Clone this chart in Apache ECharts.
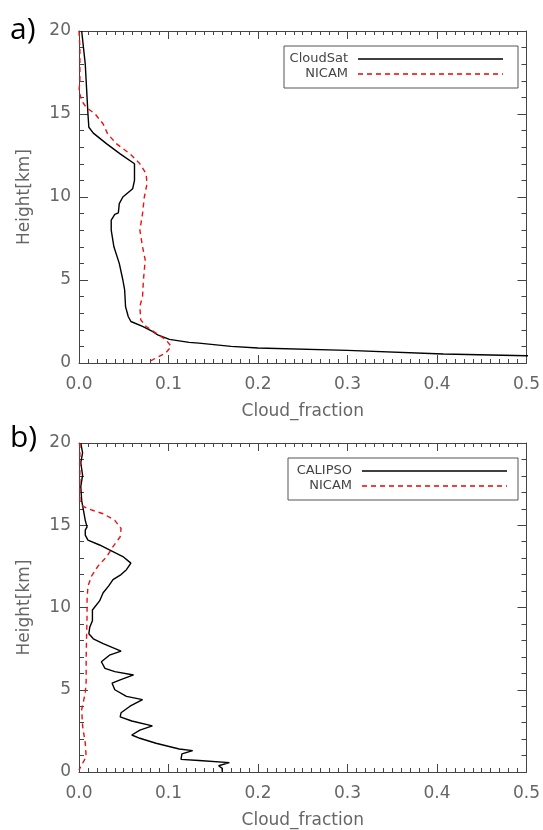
<!DOCTYPE html>
<html>
<head>
    <meta charset="utf-8">
    <title>Cloud fraction profiles</title>
    <script src="https://cdn.jsdelivr.net/npm/echarts@6/dist/echarts.min.js"></script>
    <style>
        html, body { margin: 0; padding: 0; background: #fff; }
        #chart { width: 543px; height: 830px; }
    </style>
</head>
<body>
<div id="chart"></div>
<script type="text/javascript">
// x axis ticks / labels
var xTicks = ['0.0', '0.1', '0.2', '0.3', '0.4', '0.5'];
var yTicks = ['0', '5', '10', '15', '20'];

// panel a) CloudSat
var cloudsatH = [20, 19, 18, 17, 16, 15, 14.2, 13.85, 13.2, 12.6, 12.0, 11.0, 10.5, 10.0, 9.6, 9.05, 8.95, 8.6, 8.0, 7.0, 6.0, 5.0, 4.4, 3.4, 2.8, 2.5, 2.2, 1.9, 1.7, 1.42, 1.24, 1.2, 1.0, 0.9, 0.76, 0.54, 0.44, 0.3];
var cloudsatF = [0.003, 0.005, 0.007, 0.008, 0.009, 0.010, 0.011, 0.016, 0.031, 0.046, 0.062, 0.062, 0.060, 0.049, 0.045, 0.044, 0.040, 0.036, 0.036, 0.039, 0.045, 0.049, 0.051, 0.052, 0.055, 0.058, 0.071, 0.082, 0.088, 0.101, 0.123, 0.134, 0.17, 0.2, 0.30, 0.407, 0.5, 0.62];
// panel a) NICAM
var nicamAH = [20, 19, 18, 17, 16.4, 15.8, 15.4, 15.0, 14.4, 13.8, 13.2, 12.6, 12.0, 11.4, 10.8, 10.0, 9.0, 8.0, 7.0, 6.2, 5.6, 5.0, 4.0, 3.4, 2.6, 2.2, 1.8, 1.4, 1.0, 0.6, 0.3, 0.1];
var nicamAF = [0.0, 0.001, 0.001, 0.001, 0.0, 0.003, 0.008, 0.018, 0.027, 0.032, 0.042, 0.057, 0.068, 0.075, 0.076, 0.073, 0.071, 0.068, 0.071, 0.074, 0.073, 0.072, 0.071, 0.068, 0.069, 0.075, 0.086, 0.097, 0.103, 0.097, 0.086, 0.079];

// panel b) CALIPSO
var calipsoH = [20, 19.4, 18.8, 18.05, 17.35, 16.5, 15.9, 15.3, 14.9, 14.7, 14.4, 14.1, 13.8, 13.5, 13.1, 12.7, 12.3, 12.0, 11.7, 11.3, 10.9, 10.4, 9.85, 9.2, 8.8, 8.4, 8.1, 7.8, 7.35, 7.1, 6.7, 6.3, 6.1, 5.9, 5.6, 5.4, 5.0, 4.6, 4.4, 4.0, 3.6, 3.35, 3.1, 2.8, 2.55, 2.25, 2.05, 1.75, 1.4, 1.3, 1.1, 0.77, 0.7, 0.57, 0.38, 0.22, 0.02];
var calipsoF = [0.002, 0.004, 0.002, 0.004, 0.002, 0.003, 0.005, 0.007, 0.009, 0.007, 0.007, 0.010, 0.023, 0.034, 0.049, 0.058, 0.053, 0.047, 0.038, 0.033, 0.027, 0.023, 0.015, 0.015, 0.012, 0.011, 0.016, 0.027, 0.047, 0.034, 0.025, 0.029, 0.040, 0.061, 0.046, 0.037, 0.040, 0.053, 0.071, 0.057, 0.047, 0.046, 0.059, 0.082, 0.068, 0.059, 0.068, 0.086, 0.112, 0.127, 0.115, 0.114, 0.134, 0.168, 0.156, 0.160, 0.160];
// panel b) NICAM
var nicamBH = [20, 18, 16.5, 16.2, 16.0, 15.7, 15.3, 14.8, 14.3, 13.7, 13.1, 12.5, 11.9, 11.3, 10.45, 9.5, 7.0, 5.5, 4.8, 3.8, 2.8, 1.75, 0.93, 0.53, 0.12];
var nicamBF = [0.001, 0.001, 0.001, 0.003, 0.010, 0.027, 0.040, 0.047, 0.046, 0.038, 0.031, 0.021, 0.014, 0.010, 0.009, 0.009, 0.008, 0.008, 0.007, 0.003, 0.004, 0.007, 0.008, 0.004, 0.0];

function pairs(f, h) {
    var out = [];
    for (var i = 0; i < f.length; i++) out.push([f[i], h[i]]);
    return out;
}

var labelFont = { fontFamily: 'DejaVu Sans', fontSize: 17, color: '#666' };
var axisLine = { onZero: false, lineStyle: { color: '#444', width: 1 } };

function xAxisFor(gi, top) {
    return {
        type: 'value', gridIndex: gi, min: 0, max: 0.5, interval: 0.1,
        position: top ? 'top' : 'bottom',
        name: top ? '' : 'Cloud_fraction',
        nameLocation: 'middle', nameGap: 40,
        nameTextStyle: labelFont,
        axisLine: axisLine,
        axisTick: { inside: true, length: 8, lineStyle: { color: '#444' } },
        minorTick: { show: true, splitNumber: 10, length: 4, lineStyle: { color: '#444' } },
        axisLabel: top ? { show: false } : Object.assign({ margin: 13, formatter: function (v) { return xTicks[Math.round(v * 10)]; } }, labelFont),
        splitLine: { show: false }
    };
}
function yAxisFor(gi, right) {
    return {
        type: 'value', gridIndex: gi, min: 0, max: 20, interval: 5,
        position: right ? 'right' : 'left',
        name: right ? '' : 'Height[km]',
        nameLocation: 'middle', nameGap: 46,
        nameTextStyle: labelFont,
        axisLine: axisLine,
        axisTick: { inside: true, length: 9, lineStyle: { color: '#444' } },
        minorTick: { show: true, splitNumber: 5, length: 5, lineStyle: { color: '#444' } },
        axisLabel: right ? { show: false } : Object.assign({ margin: 8, formatter: function (v) { return yTicks[v / 5]; } }, labelFont),
        splitLine: { show: false }
    };
}

function lineSeries(name, xi, yi, data, color, dashed) {
    return {
        name: name, type: 'line', xAxisIndex: xi, yAxisIndex: yi,
        data: data, showSymbol: false, clip: true, animation: false,
        lineStyle: { color: color, width: 1.4, type: dashed ? [5, 4] : 'solid' }
    };
}

function legendBox(x, y, w, h, name1) {
    return [
        { type: 'rect', shape: { x: x, y: y, width: w, height: h }, style: { fill: '#fff', stroke: '#555', lineWidth: 1 } },
        { type: 'text', x: x + 64, y: y + 13, style: { text: name1, align: 'right', verticalAlign: 'middle', fontFamily: 'DejaVu Sans', fontSize: 13, fill: '#444' } },
        { type: 'text', x: x + 64, y: y + 28, style: { text: 'NICAM', align: 'right', verticalAlign: 'middle', fontFamily: 'DejaVu Sans', fontSize: 13, fill: '#444' } },
        { type: 'line', shape: { x1: x + 74, y1: y + 13, x2: x + 219, y2: y + 13 }, style: { stroke: '#000', lineWidth: 1.4 } },
        { type: 'line', shape: { x1: x + 74, y1: y + 28, x2: x + 219, y2: y + 28 }, style: { stroke: '#e00', lineWidth: 1.4, lineDash: [5, 4] } }
    ];
}

var myChart = echarts.init(document.getElementById('chart'));
myChart.setOption({
    animation: false,
    grid: [
        { left: 79, top: 31, width: 449, height: 332 },
        { left: 79, top: 443, width: 449, height: 329 }
    ],
    xAxis: [xAxisFor(0, false), xAxisFor(0, true), xAxisFor(1, false), xAxisFor(1, true)],
    yAxis: [yAxisFor(0, false), yAxisFor(0, true), yAxisFor(1, false), yAxisFor(1, true)],
    series: [
        lineSeries('CloudSat', 0, 0, pairs(cloudsatF, cloudsatH), '#000', false),
        lineSeries('NICAM', 0, 0, pairs(nicamAF, nicamAH), '#ee1111', true),
        lineSeries('CALIPSO', 2, 2, pairs(calipsoF, calipsoH), '#000', false),
        lineSeries('NICAM', 2, 2, pairs(nicamBF, nicamBH), '#ee1111', true)
    ],
    graphic: [
        { type: 'text', x: 10, y: 15, style: { text: 'a)', fontFamily: 'Open Sans', fontSize: 30, fill: '#000' } },
        { type: 'text', x: 10, y: 423, style: { text: 'b)', fontFamily: 'Open Sans', fontSize: 30, fill: '#000' } }
    ].concat(legendBox(284, 46, 234, 42, 'CloudSat'), legendBox(288, 458, 230, 42, 'CALIPSO'))
});
</script>
</body>
</html>
